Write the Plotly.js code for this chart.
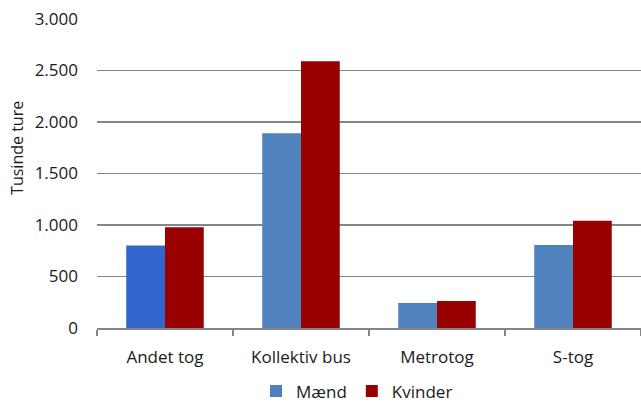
<!DOCTYPE html>
<html>
<head>
<meta charset="utf-8">
<script src="https://cdn.plot.ly/plotly-3.0.1.min.js"></script>
<style>
  html, body { margin: 0; padding: 0; background: #fff; }
  #chart { width: 641px; height: 403px; }
</style>
</head>
<body>
<div id="chart"></div>
<script>
// Trips by mode of transport, in thousands, split by gender
const categories = ["Andet tog", "Kollektiv bus", "Metrotog", "S-tog"];
const maend = [800, 1890, 243, 807];
const kvinder = [979, 2590, 263, 1041];
const yTicks = [0, 500, 1000, 1500, 2000, 2500, 3000];

const font = "Open Sans, Noto Sans, sans-serif";
const BLUE = "#4F81BD";
const BLUE_HIGHLIGHT = "#3366CC";

// The legend swatch takes the colour of a trace's first point, so the
// highlighted "Andet tog" bar is listed last within the Mænd trace.
const order = [1, 2, 3, 0];
const traces = [
  {
    type: "bar",
    name: "Mænd",
    x: order.map(i => categories[i]),
    y: order.map(i => maend[i]),
    marker: { color: order.map(i => (i === 0 ? BLUE_HIGHLIGHT : BLUE)) }
  },
  {
    type: "bar",
    name: "Kvinder",
    x: categories,
    y: kvinder,
    marker: { color: "#990000" }
  }
];

const layout = {
  width: 641,
  height: 403,
  margin: { l: 97, r: 0, t: 19, b: 75, autoexpand: false },
  paper_bgcolor: "#fff",
  plot_bgcolor: "#fff",
  separators: ",.",
  barmode: "group",
  bargap: 0.43,
  bargroupgap: 0,
  showlegend: true,
  font: { family: font, size: 17, color: "#1a1a1a" },
  xaxis: {
    type: "category",
    categoryorder: "array",
    categoryarray: categories,
    showline: true,
    linecolor: "#868686",
    linewidth: 1.5,
    ticks: "outside",
    tickson: "boundaries",
    ticklen: 6,
    tickcolor: "#868686",
    tickwidth: 1.5,
    showgrid: false,
    ticklabelstandoff: 13,
    automargin: false,
    tickfont: { family: font, size: 17, color: "#1a1a1a" }
  },
  yaxis: {
    range: [0, 3000],
    tickvals: yTicks,
    tickformat: ",d",
    showline: false,
    zeroline: false,
    showgrid: true,
    gridcolor: "#868686",
    gridwidth: 1.5,
    ticks: "",
    ticklabelstandoff: 18,
    automargin: false,
    tickfont: { family: font, size: 17, color: "#1a1a1a" }
  },
  legend: {
    orientation: "h",
    x: 0.478,
    xanchor: "center",
    y: -0.205,
    yanchor: "middle",
    font: { family: font, size: 17, color: "#1a1a1a" },
    itemwidth: 30
  },
  annotations: [
    {
      text: "Tusinde ture",
      xref: "paper",
      yref: "paper",
      x: -0.147,
      xanchor: "center",
      y: 0.583,
      yanchor: "middle",
      textangle: -90,
      showarrow: false,
      font: { family: font, size: 16, color: "#1a1a1a" }
    }
  ]
};

Plotly.newPlot("chart", traces, layout, { displayModeBar: false, staticPlot: true });
</script>
</body>
</html>
